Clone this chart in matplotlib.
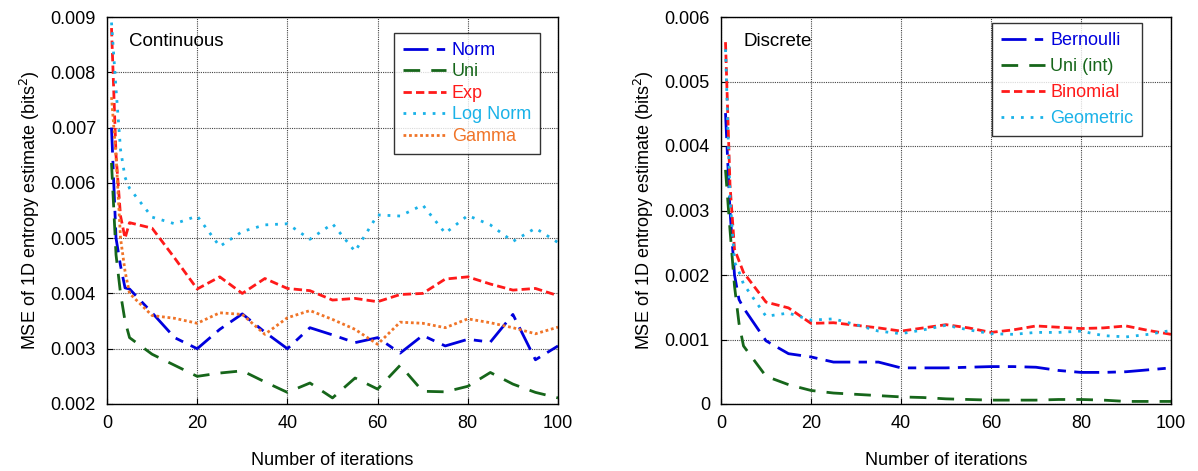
import matplotlib.pyplot as plt

plt.rcParams["font.family"] = ["Liberation Sans", "DejaVu Sans"]

# Sampling points of the iteration count
iters = [1, 2, 3, 4, 5, 10, 15, 20, 25, 30, 35, 40, 45, 50, 55, 60, 65, 70, 75, 80, 85, 90, 95, 100]

# Continuous distributions
norm = [0.0070, 0.0050, 0.0045, 0.0041, 0.00408, 0.00365, 0.0032, 0.0030, 0.00335, 0.00363,
        0.00330, 0.0030, 0.00338, 0.00325, 0.00311, 0.0032, 0.00292, 0.00324, 0.00305,
        0.00317, 0.00312, 0.00362, 0.0028, 0.00305]
uni = [0.00636, 0.0047, 0.0040, 0.0035, 0.0032, 0.0029, 0.0027, 0.0025, 0.00256, 0.0026,
       0.0024, 0.00221, 0.00238, 0.00211, 0.00247, 0.00227, 0.0027, 0.00223, 0.00222,
       0.00232, 0.00257, 0.00236, 0.00221, 0.00211]
expo = [0.0088, 0.0065, 0.0054, 0.0050, 0.00528, 0.00518, 0.00464, 0.00408, 0.0043, 0.0040,
        0.00427, 0.00409, 0.00405, 0.00388, 0.00391, 0.00385, 0.00398, 0.0040, 0.00426,
        0.0043, 0.00417, 0.00406, 0.00409, 0.00396]
lognorm = [0.0089, 0.0077, 0.0066, 0.0061, 0.0059, 0.00538, 0.00526, 0.0054, 0.00485, 0.00512,
           0.00524, 0.00526, 0.00498, 0.00526, 0.00476, 0.00542, 0.0054, 0.0056, 0.00509,
           0.00541, 0.00524, 0.00494, 0.00518, 0.00492]
gamma = [0.00755, 0.0065, 0.0050, 0.0044, 0.0040, 0.0036, 0.00355, 0.00346, 0.00365, 0.00362,
         0.00326, 0.00356, 0.00369, 0.00353, 0.00335, 0.00308, 0.00348, 0.00346, 0.00338,
         0.00354, 0.00347, 0.00338, 0.00327, 0.00339]

# Discrete distributions
bern = [0.00451, 0.0030, 0.0020, 0.00162, 0.00149, 0.00098, 0.00078, 0.00073, 0.00065, 0.00065,
        0.00065, 0.00056, 0.00056, 0.00056, 0.00057, 0.00058, 0.00058, 0.00057, 0.00052,
        0.00049, 0.00049, 0.0005, 0.00053, 0.00056]
uni_int = [0.00363, 0.0027, 0.00183, 0.00125, 0.0009, 0.00043, 0.0003, 0.00021, 0.00017,
           0.00015, 0.00013, 0.00011, 0.0001, 0.00008, 0.00007, 0.00006, 0.00006, 0.00006,
           0.00007, 0.00007, 0.00006, 0.00004, 0.00004, 0.00004]
binom = [0.00561, 0.0034, 0.0024, 0.00222, 0.00204, 0.00158, 0.00149, 0.00125, 0.00126,
         0.00122, 0.00118, 0.00113, 0.00118, 0.00123, 0.00118, 0.00111, 0.00115, 0.00121,
         0.00119, 0.00117, 0.00118, 0.00121, 0.00114, 0.00108]
geom = [0.0055, 0.0032, 0.0022, 0.00205, 0.00186, 0.00136, 0.00141, 0.0013, 0.00132, 0.00123,
        0.00113, 0.00109, 0.00115, 0.00122, 0.00115, 0.00109, 0.00108, 0.00111, 0.00111,
        0.00113, 0.00106, 0.00104, 0.00108, 0.00114]

BLUE = "#0000dd"
GREEN = "#16661a"
RED = "#ff1a1a"
CYAN = "#1ab2e8"
ORANGE = "#f07428"

DASHDOT = (0, (9, 3, 3, 3))
DASH = (0, (6, 4))
SHORTDASH = (0, (3, 1.5))
DOT = (0, (1, 2.5))
DENSEDOT = (0, (1, 1))

fig = plt.figure(figsize=(11.98, 4.71), dpi=100)
ax1 = fig.add_axes([107 / 1198, 67 / 471, 451 / 1198, 387 / 471])
ax2 = fig.add_axes([721 / 1198, 67 / 471, 450 / 1198, 387 / 471])

left_series = [
    ("Norm", norm, BLUE, DASHDOT),
    ("Uni", uni, GREEN, DASH),
    ("Exp", expo, RED, SHORTDASH),
    ("Log Norm", lognorm, CYAN, DOT),
    ("Gamma", gamma, ORANGE, DENSEDOT),
]
right_series = [
    ("Bernoulli", bern, BLUE, DASHDOT),
    ("Uni (int)", uni_int, GREEN, DASH),
    ("Binomial", binom, RED, SHORTDASH),
    ("Geometric", geom, CYAN, DOT),
]

panels = [
    (ax1, left_series, (0.002, 0.009), [0.002 + 0.001 * i for i in range(8)],
     "Continuous", (0.96, 0.959), 0.25),
    (ax2, right_series, (0, 0.006), [0.001 * i for i in range(7)],
     "Discrete", (0.936, 0.984), 0.5),
]

for ax, series, ylim, yticks, title, anchor, spacing in panels:
    for label, values, color, ls in series:
        ax.plot(iters, values, color=color, linestyle=ls, linewidth=2, label=label)
    ax.set_xlim(0, 100)
    ax.set_ylim(*ylim)
    ax.set_xticks([0, 20, 40, 60, 80, 100])
    ax.set_yticks(yticks)
    ax.set_yticklabels(["0" if abs(t) < 1e-12 else f"{t:.3f}" for t in yticks])
    ax.grid(True, color="#444444", linestyle=(0, (1, 1)), linewidth=0.8)
    ax.tick_params(direction="in", labelsize=13, length=4, pad=8)
    for spine in ax.spines.values():
        spine.set_linewidth(1.0)
    ax.set_xlabel("Number of iterations", fontsize=13, labelpad=14)
    ax.set_ylabel("MSE of 1D entropy estimate (bits$^2$)", fontsize=13, labelpad=6)
    ax.text(0.049, 0.937, title, transform=ax.transAxes, fontsize=13.5, va="center")
    leg = ax.legend(loc="upper right", bbox_to_anchor=anchor, borderaxespad=0,
                    fontsize=13, frameon=True, fancybox=False, edgecolor="black",
                    handlelength=2.4, borderpad=0.5, labelspacing=spacing,
                    handletextpad=0.3)
    leg.get_frame().set_linewidth(1.0)
    for text, (_, _, color, _) in zip(leg.get_texts(), series):
        text.set_color(color)

fig.savefig("out.png", dpi=100)
